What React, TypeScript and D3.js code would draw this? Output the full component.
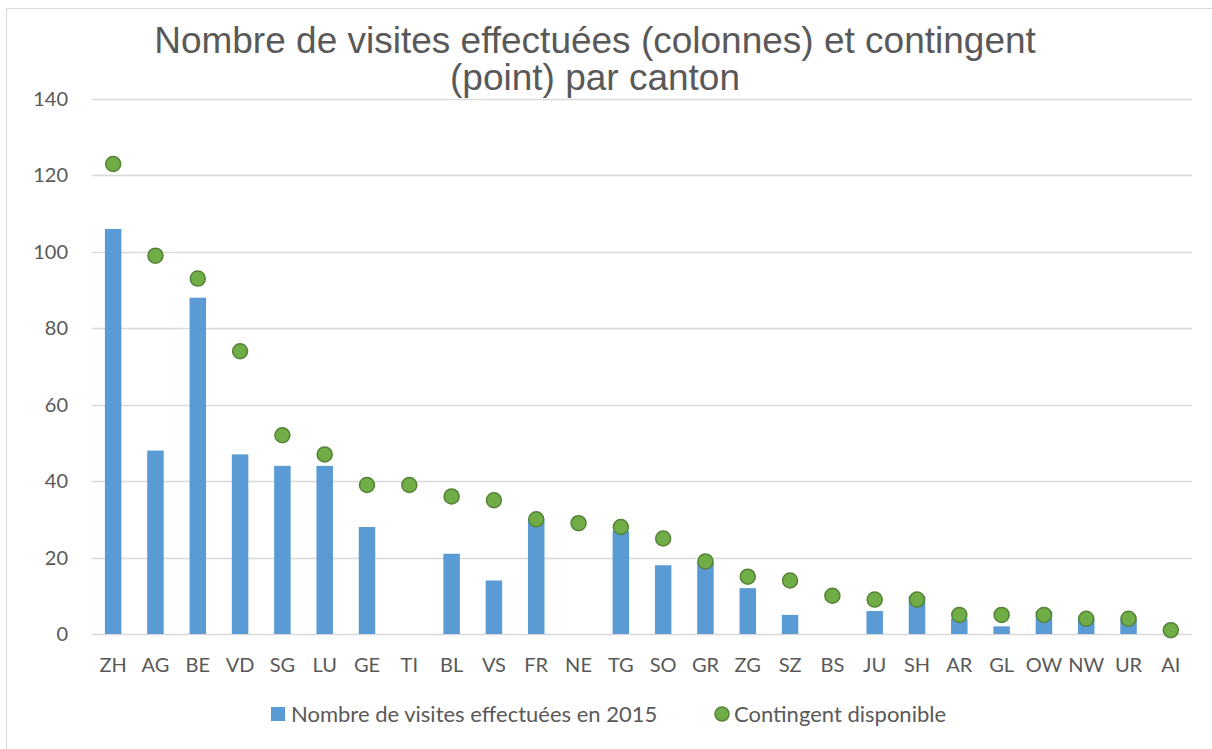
import { useEffect, useRef } from 'react'
import * as d3 from 'd3'

// cantons, dans l'ordre du graphique
const cantons = ['ZH', 'AG', 'BE', 'VD', 'SG', 'LU', 'GE', 'TI', 'BL', 'VS', 'FR', 'NE', 'TG',
  'SO', 'GR', 'ZG', 'SZ', 'BS', 'JU', 'SH', 'AR', 'GL', 'OW', 'NW', 'UR', 'AI']
const visites = [106, 48, 88, 47, 44, 44, 28, 0, 21, 14, 30, 0, 27, 18, 19, 12, 5, 0, 6, 10, 4, 2, 6, 4, 4, 0]
const contingent = [123, 99, 93, 74, 52, 47, 39, 39, 36, 35, 30, 29, 28, 25, 19, 15, 14, 10, 9, 9, 5, 5, 5, 4, 4, 1]
const yTicks = [0, 20, 40, 60, 80, 100, 120, 140]
const titleLines = ['Nombre de visites effectuées (colonnes) et contingent', '(point) par canton']
const legendLabels = ['Nombre de visites effectuées en 2015', 'Contingent disponible']

const W = 1212
const H = 749
const M = { top: 99, right: 20, bottom: 115, left: 92 }
const BLUE = '#5B9BD5'
const GREEN = '#70AD47'
const GREEN_DARK = '#548235'
const TXT = '#595959'
const FONT = 'Lato, "Open Sans", sans-serif'

export default function App() {
  const svgRef = useRef<SVGSVGElement>(null)

  useEffect(() => {
    const svg = d3.select(svgRef.current)
    svg.selectAll('*').remove()
    svg.attr('viewBox', `0 0 ${W} ${H}`)

    svg.append('rect').attr('width', W).attr('height', H).attr('fill', '#fff')
    // cadre
    svg.append('rect')
      .attr('x', 6.5).attr('y', 8.5).attr('width', W).attr('height', H + 20)
      .attr('fill', 'none').attr('stroke', '#D9D9D9').attr('stroke-width', 1)

    const x = d3.scaleBand().domain(cantons).range([M.left, W - M.right]).paddingInner(0.61).paddingOuter(0.305)
    const y = d3.scaleLinear().domain([0, 140]).range([H - M.bottom, M.top])

    // grille
    svg.append('g').selectAll('line').data(yTicks).join('line')
      .attr('x1', M.left).attr('x2', W - M.right)
      .attr('y1', (d) => Math.round(y(d)) + 0.5).attr('y2', (d) => Math.round(y(d)) + 0.5)
      .attr('stroke', '#D9D9D9').attr('stroke-width', 1.5)

    // étiquettes Y
    svg.append('g').selectAll('text').data(yTicks).join('text')
      .attr('x', 68).attr('y', (d) => y(d) + 7)
      .attr('text-anchor', 'end').attr('font-family', FONT).attr('font-size', 20).attr('fill', TXT)
      .text((d) => d)

    // colonnes
    svg.append('g').selectAll('rect').data(cantons).join('rect')
      .attr('x', (d) => x(d)!).attr('width', x.bandwidth())
      .attr('y', (_, i) => y(visites[i])).attr('height', (_, i) => y(0) - y(visites[i]))
      .attr('fill', BLUE)

    // étiquettes X
    svg.append('g').selectAll('text').data(cantons).join('text')
      .attr('x', (d) => x(d)! + x.bandwidth() / 2).attr('y', y(0) + 38)
      .attr('text-anchor', 'middle').attr('font-family', FONT).attr('font-size', 20).attr('fill', TXT)
      .text((d) => d)

    // points
    svg.append('g').selectAll('circle').data(cantons).join('circle')
      .attr('cx', (d) => x(d)! + x.bandwidth() / 2).attr('cy', (_, i) => y(contingent[i]))
      .attr('r', 7.5).attr('fill', GREEN).attr('stroke', GREEN_DARK).attr('stroke-width', 1.5)

    // titre
    svg.append('g').selectAll('text').data(titleLines).join('text')
      .attr('x', 595).attr('y', (_, i) => 53 + i * 37)
      .attr('text-anchor', 'middle').attr('font-family', '"Liberation Sans", Arial, sans-serif')
      .attr('font-size', 37).attr('fill', TXT)
      .text((d) => d)

    // légende
    const leg = svg.append('g')
    leg.append('rect').attr('x', 271).attr('y', 707).attr('width', 14).attr('height', 14).attr('fill', BLUE)
    leg.append('text').attr('x', 291).attr('y', 722)
      .attr('font-family', FONT).attr('font-size', 22).attr('fill', TXT).text(legendLabels[0])
    leg.append('circle').attr('cx', 722).attr('cy', 714).attr('r', 7)
      .attr('fill', GREEN).attr('stroke', GREEN_DARK).attr('stroke-width', 1.5)
    leg.append('text').attr('x', 734).attr('y', 722)
      .attr('font-family', FONT).attr('font-size', 22).attr('fill', TXT).text(legendLabels[1])
  }, [])

  return (
    <svg ref={svgRef} width={W} height={H} style={{ position: 'absolute', left: 0, top: 0, display: 'block' }} />
  )
}
